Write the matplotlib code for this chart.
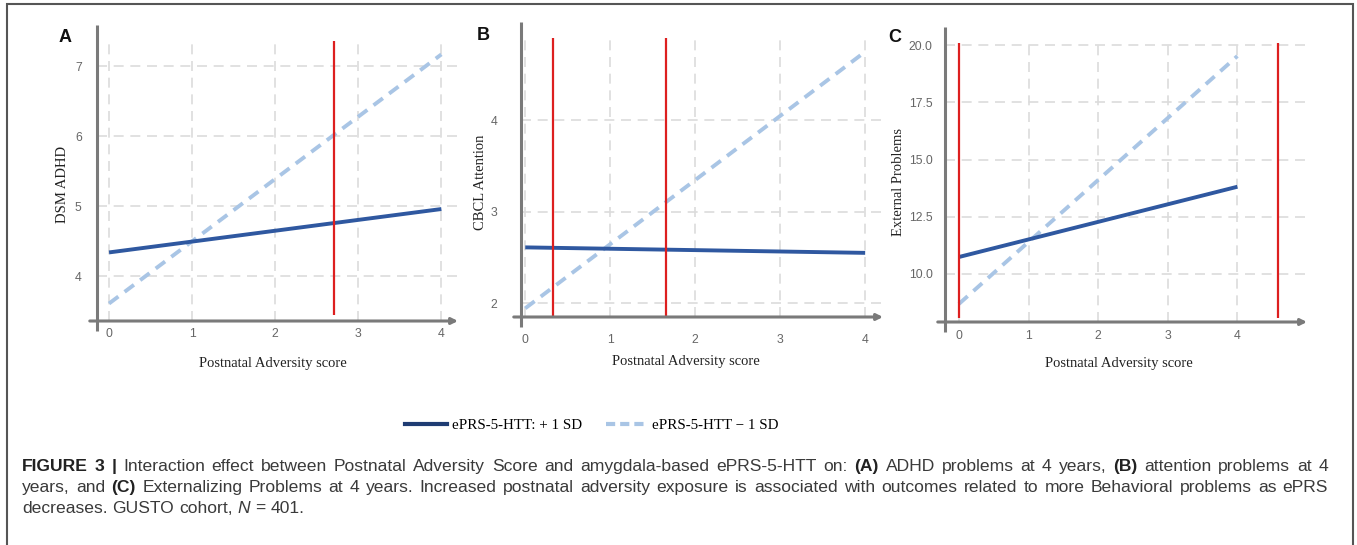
import matplotlib

matplotlib.use("Agg")
import matplotlib.pyplot as plt
from matplotlib.lines import Line2D
from matplotlib.patches import Rectangle

W, H = 1357, 545

# ---- data ----
adversity = [0, 4]

adhd_plus = [4.34, 4.96]
adhd_minus = [3.61, 7.17]
adhd_region = [2.71]
adhd_region_span = [3.44, 7.36]
adhd_yticks = [4, 5, 6, 7]

attn_plus = [2.61, 2.55]
attn_minus = [1.945, 4.745]
attn_region = [0.33, 1.66]
attn_region_span = [1.81, 4.89]
attn_yticks = [2, 3, 4]

ext_plus = [10.74, 13.81]
ext_minus = [8.69, 19.52]
ext_region = [0.0, 4.58]
ext_region_span = [8.07, 20.09]
ext_yticks = [10.0, 12.5, 15.0, 17.5, 20.0]

xticks = [0, 1, 2, 3, 4]

panel_letters = ["A", "B", "C"]
ylabels = ["DSM ADHD", "CBCL Attention", "External Problems"]
xlabel = "Postnatal Adversity score"
legend_labels = ["ePRS-5-HTT: + 1 SD", "ePRS-5-HTT \u2212 1 SD"]

SOLID = "#2f58a0"
DASHED = "#a9c5e5"
RED = "#dd1f1f"
AXIS = "#7a7a7a"
GRID = "#dcdcdc"

fig = plt.figure(figsize=(W / 100, H / 100), dpi=100)


def px_axes(left, right, top, bottom):
    """Axes rectangle from pixel edges of the reference."""
    return fig.add_axes([left / W, 1 - bottom / H, (right - left) / W, (bottom - top) / H])


def draw_panel(ax, plus, minus, regions, span, yticks, xlim, ylim, grid_top,
               ytick_pad, xtick_pad, yfmt):
    ax.set_xlim(*xlim)
    ax.set_ylim(*ylim)
    for s in ax.spines.values():
        s.set_visible(False)

    # dashed grid
    ax.vlines(xticks, ylim[0], grid_top, colors=GRID, lw=1.2, linestyles=(0, (6, 4)), zorder=1)
    ax.hlines(yticks, xlim[0], xlim[1], colors=GRID, lw=1.2, linestyles=(0, (6, 4)), zorder=1)

    ax.plot(adversity, minus, color=DASHED, lw=2.8, linestyle=(0, (3, 2)), zorder=3)
    ax.plot(adversity, plus, color=SOLID, lw=2.8, solid_capstyle="butt", zorder=4)
    ax.vlines(regions, span[0], span[1], colors=RED, lw=1.6, zorder=5)

    # axis lines: left one runs a little below, bottom one ends in an arrow
    ax.plot([0, 0], [-0.035, 1], transform=ax.transAxes, color=AXIS, lw=2.2,
            clip_on=False, solid_capstyle="butt", zorder=6)
    ax.annotate("", xy=(1.0, 0), xytext=(-0.02, 0), xycoords="axes fraction",
                arrowprops=dict(arrowstyle="-|>", color=AXIS, lw=2.2,
                                mutation_scale=9, shrinkA=0, shrinkB=0),
                zorder=6)

    ax.set_xticks(xticks)
    ax.set_xticklabels([str(t) for t in xticks])
    ax.set_yticks(yticks)
    ax.set_yticklabels([yfmt.format(t) for t in yticks])
    ax.tick_params(length=0, labelsize=8.8, labelcolor="#666666")
    ax.tick_params(axis="y", pad=ytick_pad)
    ax.tick_params(axis="x", pad=xtick_pad)
    for lab in ax.get_xticklabels() + ax.get_yticklabels():
        lab.set_fontfamily("Liberation Sans")


panels = [
    dict(box=(97, 458, 25, 321), plus=adhd_plus, minus=adhd_minus, regions=adhd_region,
         span=adhd_region_span, yticks=adhd_yticks, xlim=(-0.145, 4.2), ylim=(3.36, 7.59),
         grid_top=7.34, ypad=11, xpad=5, yfmt="{:g}", ylab=(62, 184), xlab=(273, 363),
         letter=(65, 37)),
    dict(box=(521, 883, 22, 317), plus=attn_plus, minus=attn_minus, regions=attn_region,
         span=attn_region_span, yticks=attn_yticks, xlim=(-0.05, 4.21), ylim=(1.85, 5.07),
         grid_top=4.9, ypad=17, xpad=12, yfmt="{:g}", ylab=(480, 182), xlab=(686, 361),
         letter=(483, 36)),
    dict(box=(945, 1307, 27, 322), plus=ext_plus, minus=ext_minus, regions=ext_region,
         span=ext_region_span, yticks=ext_yticks, xlim=(-0.2, 5.0), ylim=(7.9, 20.79),
         grid_top=20.09, ypad=9, xpad=6, yfmt="{:.1f}", ylab=(898, 182), xlab=(1119, 363),
         letter=(895, 37)),
]

for p, letter, ylab in zip(panels, panel_letters, ylabels):
    ax = px_axes(*p["box"])
    draw_panel(ax, p["plus"], p["minus"], p["regions"], p["span"], p["yticks"],
               p["xlim"], p["ylim"], p["grid_top"], p["ypad"], p["xpad"], p["yfmt"])
    fig.text(p["ylab"][0] / W, 1 - p["ylab"][1] / H, ylab, rotation=90, ha="center",
             va="center", family="Liberation Serif", fontsize=10.5, color="#222222")
    fig.text(p["xlab"][0] / W, 1 - p["xlab"][1] / H, xlabel, ha="center", va="center",
             family="Liberation Serif", fontsize=10.5, color="#222222")
    fig.text(p["letter"][0] / W, 1 - p["letter"][1] / H, letter, ha="center", va="center",
             family="Liberation Sans", fontweight="bold", fontsize=13, color="#111111")

handles = [
    Line2D([], [], color="#1f3c73", lw=3),
    Line2D([], [], color=DASHED, lw=3, linestyle=(0, (2.2, 1.2))),
]
fig.legend(handles, legend_labels, loc="center", bbox_to_anchor=(592 / W, 1 - 425 / H),
           ncol=2, frameon=False, handlelength=2.8, columnspacing=1.6, handletextpad=0.3,
           prop={"family": "Liberation Serif", "size": 10.8})

# outer frame
fig.add_artist(Rectangle((7 / W, -0.05), 1346 / W, 1 - 4 / H + 0.05, transform=fig.transFigure,
                         fill=False, edgecolor="#555555", lw=1.5))

# ---- caption, justified like the journal layout ----
caption_lines = [
    [("FIGURE", "bold"), ("3", "bold"), ("|", "bold"), ("Interaction", ""), ("effect", ""),
     ("between", ""), ("Postnatal", ""), ("Adversity", ""), ("Score", ""), ("and", ""),
     ("amygdala-based", ""), ("ePRS-5-HTT", ""), ("on:", ""), ("(A)", "bold"), ("ADHD", ""),
     ("problems", ""), ("at", ""), ("4", ""), ("years,", ""), ("(B)", "bold"),
     ("attention", ""), ("problems", ""), ("at", ""), ("4", "")],
    [("years,", ""), ("and", ""), ("(C)", "bold"), ("Externalizing", ""), ("Problems", ""),
     ("at", ""), ("4", ""), ("years.", ""), ("Increased", ""), ("postnatal", ""),
     ("adversity", ""), ("exposure", ""), ("is", ""), ("associated", ""), ("with", ""),
     ("outcomes", ""), ("related", ""), ("to", ""), ("more", ""), ("Behavioral", ""),
     ("problems", ""), ("as", ""), ("ePRS", "")],
    [("decreases.", ""), ("GUSTO", ""), ("cohort,", ""), ("N", "italic"), ("=", ""),
     ("401.", "")],
]
caption_baselines = [471, 492, 513]
justify = [True, True, False]
cap_left, cap_right = 22, 1328
cap_size = 12.6

fig.canvas.draw()
renderer = fig.canvas.get_renderer()
probe = fig.text(0, 0, "a a", family="Liberation Sans", fontsize=cap_size)
probe2 = fig.text(0, 0, "aa", family="Liberation Sans", fontsize=cap_size)
space_w = probe.get_window_extent(renderer).width - probe2.get_window_extent(renderer).width
probe.remove()
probe2.remove()

for words, base, just in zip(caption_lines, caption_baselines, justify):
    texts = []
    for word, style in words:
        t = fig.text(0, 1 - base / H, word, ha="left", va="baseline",
                     family="Liberation Sans", fontsize=cap_size,
                     fontweight="bold" if style == "bold" else "normal",
                     fontstyle="italic" if style == "italic" else "normal",
                     color="#222222" if style == "bold" else "#3a3a3a")
        texts.append(t)
    widths = [t.get_window_extent(renderer).width for t in texts]
    gap = (cap_right - cap_left - sum(widths)) / (len(texts) - 1) if just else space_w
    x = cap_left
    for t, w in zip(texts, widths):
        t.set_x(x / W)
        x += w + gap

fig.savefig("out.png", dpi=100)
